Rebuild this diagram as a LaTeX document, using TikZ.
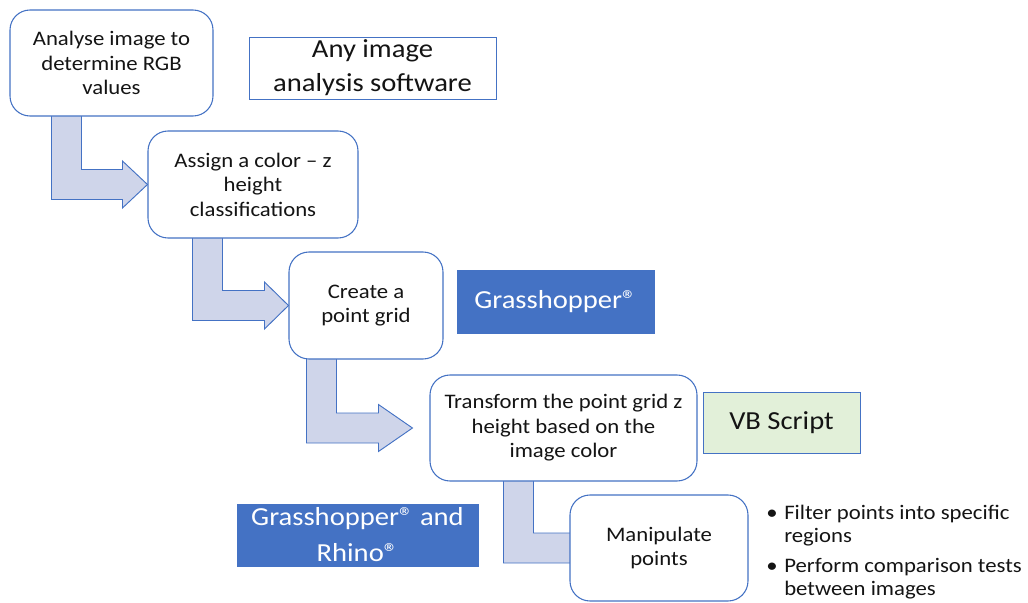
\documentclass[tikz,border=0pt]{standalone}
\usepackage{fontspec}
\setmainfont{Carlito}[FakeStretch=1.1]
\usepackage{xcolor}
\usepackage{tikz}
\usetikzlibrary{calc,backgrounds}
\definecolor{flowBlue}  {RGB}{68, 114, 196}
\definecolor{flowArrow} {RGB}{207, 213, 234}
\definecolor{flowGreen} {RGB}{226, 240, 217}
\definecolor{flowText}  {RGB}{20, 20, 20}
\newlength{\pxu}\setlength{\pxu}{0.75pt}

% bent block arrow: source, target, stem offset, tip shift, head length
\newcommand{\bentarrow}[5]{%
  \coordinate (s) at ($(#1.south west)+(#3,-3)$);
  \coordinate (t) at ($(#2.west)+(#4,0)$);
  \draw[blockarrow] (s) -- ($(s |- t)+(0,15)$) -- ($(t)+(-#5,15)$)
    -- ($(t)+(-#5,23.5)$) -- (t) -- ($(t)+(-#5,-23.5)$)
    -- ($(t)+(-#5,-15)$) -- ($(s |- t)+(30,-15)$) -- ($(s)+(30,0)$) -- cycle;}

\begin{document}
\begin{tikzpicture}[x=0.75pt,y=-0.75pt,
    stepbox/.style={draw=flowBlue,line width=0.8pt,fill=white,
      rounded corners=15pt,align=center,inner sep=0pt,text=flowText,
      font=\fontsize{15.5}{18.4}\selectfont},
    toolbox/.style={draw=flowBlue,line width=0.7pt,fill=white,
      align=center,inner sep=0pt,text=flowText,
      font=\fontsize{19.5}{25.5}\selectfont},
    bluetool/.style={toolbox,fill=flowBlue,text=white},
    blockarrow/.style={draw=flowBlue,line width=0.7pt,fill=flowArrow,
      line join=miter}]

    \useasboundingbox (0,0) rectangle (1028,603);

    % ── steps ────────────────────────────────────────────
    \node[stepbox,minimum width=203\pxu,minimum height=106\pxu]
          (analyse) at (111.5,63){Analyse image to\\determine RGB\\values};
    \node[stepbox,minimum width=210\pxu,minimum height=107\pxu]
          (assign) at (253,184.5){Assign a color – z\\height\\classifications};
    \node[stepbox,minimum width=154\pxu,minimum height=107\pxu]
          (grid) at (366,305.5){Create a\\point grid};
    \node[stepbox,minimum width=267\pxu,minimum height=106\pxu]
          (transform) at (563.5,428){Transform the point grid z\\height based on the\\image color};
    \node[stepbox,minimum width=178\pxu,minimum height=106\pxu]
          (manip) at (659,548){Manipulate\\points};

    % ── tools ────────────────────────────────────────────
    \node[toolbox,minimum width=247\pxu,minimum height=62\pxu]
          (anysw) at (372.5,68){Any image\\analysis software};
    \node[bluetool,minimum width=197\pxu,minimum height=63\pxu]
          (gh) at (555.5,301.5){Grasshopper®};
    \node[toolbox,fill=flowGreen,minimum width=157\pxu,minimum height=61\pxu]
          (vb) at (781.5,422.5){VB Script};
    \node[bluetool,minimum width=241\pxu,minimum height=62\pxu,
          font=\fontsize{19.5}{27}\selectfont]
          (ghrhino) at (357.5,535){Grasshopper® and\\Rhino®};

    % notes beside last step
    \node[anchor=west,inner sep=0pt,text=flowText,
          font=\fontsize{15.5}{17}\selectfont] (notes) at (766,553)
          {\begin{tabular}{@{}l@{\hspace{5pt}}l@{}}
            •&Filter points into specific\\ &regions\\[6pt]
            •&Perform comparison tests\\ &between images
           \end{tabular}};

    % ── arrows between steps ─────────────────────────────
    \begin{scope}[on background layer]
      \bentarrow{analyse}{assign}{42}{0}{25}
      \bentarrow{assign}{grid}{45}{0}{24}
      \bentarrow{grid}{transform}{18}{-17}{34}
      \bentarrow{transform}{manip}{74}{20}{15}
    \end{scope}

\end{tikzpicture}
\end{document}
